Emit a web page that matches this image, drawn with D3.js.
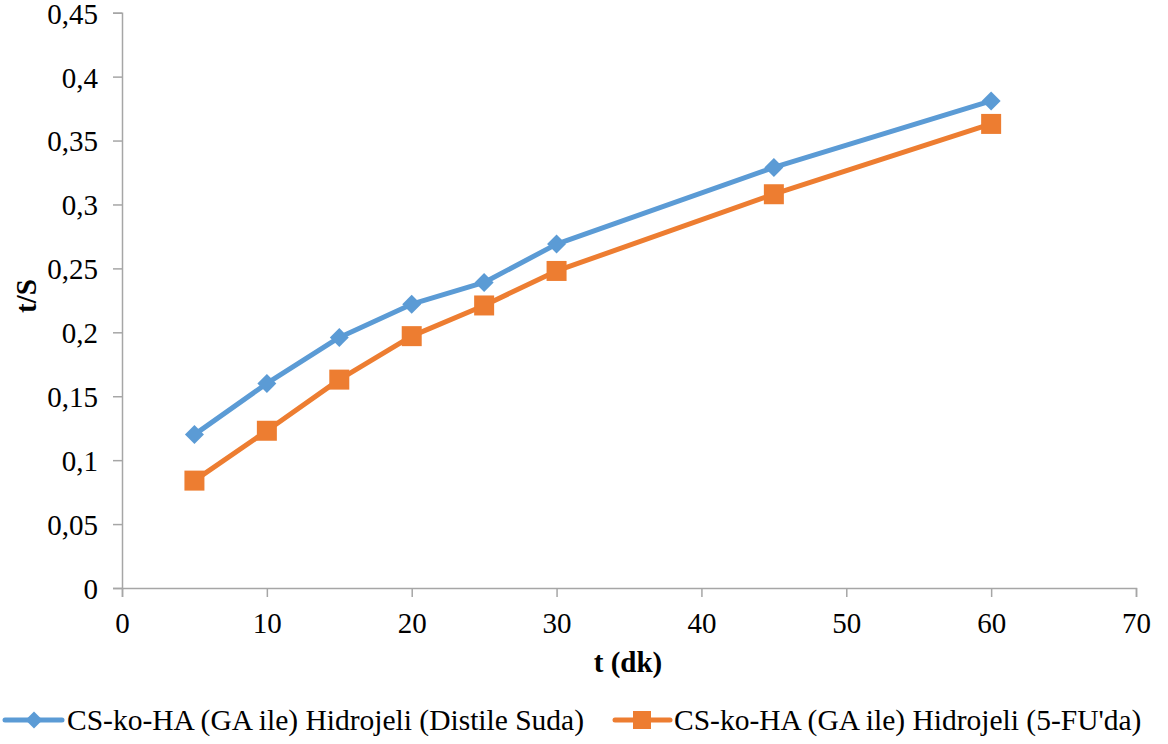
<!DOCTYPE html>
<html>
<head>
<meta charset="utf-8">
<script src="https://cdn.jsdelivr.net/npm/d3@7"></script>
<style>
  html, body { margin: 0; padding: 0; background: #fff; }
  svg { display: block; }
</style>
</head>
<body>
<svg id="chart" width="1168" height="744"></svg>
<script>
// Swelling kinetics: t/S against time for the two hydrogel media
const times = [5, 10, 15, 20, 25, 30, 45, 60];
const distilledWater = [0.120, 0.160, 0.196, 0.222, 0.239, 0.269, 0.329, 0.381];
const fiveFU = [0.084, 0.123, 0.163, 0.197, 0.221, 0.248, 0.308, 0.363];
const xTicks = [0, 10, 20, 30, 40, 50, 60, 70];
const yTicks = [0, 0.05, 0.1, 0.15, 0.2, 0.25, 0.3, 0.35, 0.4, 0.45];
const seriesNames = [
  "CS-ko-HA (GA ile) Hidrojeli (Distile Suda)",
  "CS-ko-HA (GA ile) Hidrojeli (5-FU'da)"
];

const colors = ["#5b9bd5", "#ed7d31"];
const axisColor = "#a6a6a6";
const fontFamily = "Liberation Serif, Times New Roman, serif";
const fontSize = 29;

const svg = d3.select("#chart");
const plotLeft = 122, plotRight = 1136, plotTop = 12.7, plotBottom = 588;

const x = d3.scaleLinear().domain([0, 70]).range([plotLeft, plotRight]);
const y = d3.scaleLinear().domain([0, 0.45]).range([plotBottom, plotTop]);

// Axes
const yAxis = svg.append("g")
  .attr("transform", `translate(${plotLeft},0)`)
  .call(d3.axisLeft(y).tickValues(yTicks).tickSize(9).tickPadding(15)
    .tickFormat(d => d === 0 ? "0" : String(+d.toFixed(2)).replace(".", ",")));
yAxis.selectAll(".tick text").attr("dy", "0.36em");

const xAxis = svg.append("g")
  .attr("transform", `translate(0,${plotBottom})`)
  .call(d3.axisBottom(x).tickValues(xTicks).tickSize(9).tickPadding(15));

[xAxis, yAxis].forEach(g => {
  g.attr("font-family", fontFamily).attr("font-size", fontSize);
  g.select(".domain").attr("stroke", axisColor).attr("stroke-width", 1.5);
  g.selectAll(".tick line").attr("stroke", axisColor).attr("stroke-width", 1.5);
  g.selectAll("text").attr("fill", "#000");
});

// Axis titles
svg.append("text")
  .attr("x", 628).attr("y", 672)
  .attr("text-anchor", "middle")
  .attr("font-family", fontFamily).attr("font-size", fontSize).attr("font-weight", "bold")
  .text("t (dk)");
svg.append("text")
  .attr("transform", "translate(36,296) rotate(-90)")
  .attr("text-anchor", "middle")
  .attr("font-family", fontFamily).attr("font-size", fontSize).attr("font-weight", "bold")
  .text("t/S");

// Series lines and markers
const line = d3.line().x(d => x(d[0])).y(d => y(d[1]));
const allSeries = [distilledWater, fiveFU];
const markerSize = [180, 400];

allSeries.forEach((vals, i) => {
  const pts = times.map((t, k) => [t, vals[k]]);
  svg.append("path")
    .datum(pts)
    .attr("d", line)
    .attr("fill", "none")
    .attr("stroke", colors[i])
    .attr("stroke-width", 5)
    .attr("stroke-linejoin", "round");
  svg.append("g").selectAll("path")
    .data(pts)
    .join("path")
    .attr("d", d3.symbol().type(d3.symbolSquare).size(markerSize[i])())
    .attr("transform", d => `translate(${x(d[0])},${y(d[1])})` + (i === 0 ? " rotate(45)" : ""))
    .attr("fill", colors[i]);
});

// Legend
const legendItems = [
  { x0: 5, x1: 62, mx: 34, tx: 67, size: 144 },
  { x0: 615, x1: 670, mx: 642, tx: 674, size: 324 }
];
legendItems.forEach((l, i) => {
  const g = svg.append("g").attr("transform", "translate(0,720)");
  g.append("line").attr("x1", l.x0).attr("x2", l.x1).attr("y1", 0).attr("y2", 0)
    .attr("stroke", colors[i]).attr("stroke-width", 5).attr("stroke-linecap", "round");
  g.append("path")
    .attr("d", d3.symbol().type(d3.symbolSquare).size(l.size)())
    .attr("transform", `translate(${l.mx},0)` + (i === 0 ? " rotate(45)" : ""))
    .attr("fill", colors[i]);
  g.append("text")
    .attr("x", l.tx).attr("y", 9.5)
    .attr("font-family", fontFamily).attr("font-size", 29.5)
    .text(seriesNames[i]);
});
</script>
</body>
</html>
